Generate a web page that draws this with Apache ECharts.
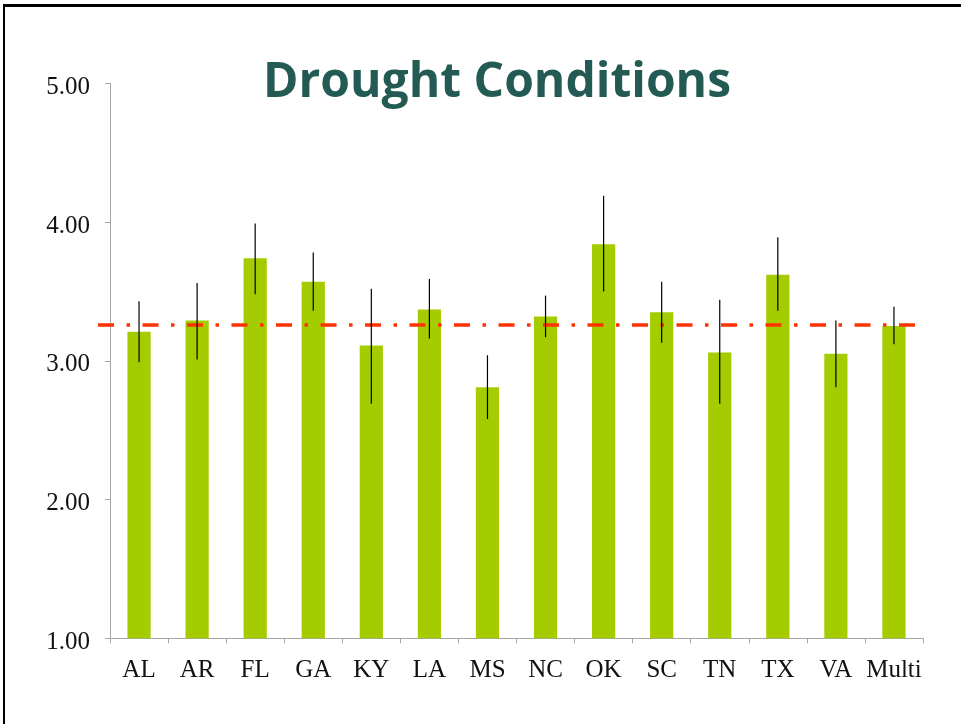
<!DOCTYPE html>
<html>
<head>
<meta charset="utf-8">
<script src="https://cdn.jsdelivr.net/npm/echarts@6/dist/echarts.min.js"></script>
<style>
  html, body { margin: 0; padding: 0; background: #fff; }
  #frame {
    position: absolute; left: 3px; top: 4px; width: 980px; height: 718px;
    border-left: 2px solid #000; border-top: 3px solid #000; border-bottom: 1px solid #aaa;
  }
  #main { position: absolute; left: 0; top: 0; width: 961px; height: 724px; }
</style>
</head>
<body>
<div id="frame"></div>
<div id="main"></div>
<script>
// states along the x axis
var states = ['AL', 'AR', 'FL', 'GA', 'KY', 'LA', 'MS', 'NC', 'OK', 'SC', 'TN', 'TX', 'VA', 'Multi'];
// mean scores (bar heights)
var means = [3.21, 3.29, 3.74, 3.57, 3.11, 3.37, 2.81, 3.32, 3.84, 3.35, 3.06, 3.62, 3.05, 3.25];
// error bar ends
var errLow = [2.99, 3.01, 3.48, 3.36, 2.69, 3.16, 2.58, 3.17, 3.50, 3.13, 2.69, 3.36, 2.81, 3.12];
var errHigh = [3.43, 3.56, 3.99, 3.78, 3.52, 3.59, 3.04, 3.47, 4.19, 3.57, 3.44, 3.89, 3.29, 3.39];
// overall average (dash-dot line)
var overall = 3.26;
var yTicks = [1, 2, 3, 4, 5];

var errData = states.map(function (s, i) { return [i, errLow[i], errHigh[i]]; });

var myChart = echarts.init(document.getElementById('main'));
myChart.setOption({
    backgroundColor: 'transparent',
    animation: false,
    title: {
        text: 'Drought Conditions',
        left: 492,
        top: 54,
        textAlign: 'center',
        textStyle: {
            fontFamily: 'Open Sans',
            fontWeight: 'bold',
            fontSize: 48,
            color: '#235B54'
        }
    },
    grid: { left: 110, right: 38, top: 83.3, bottom: 85.7, containLabel: false },
    xAxis: {
        type: 'category',
        data: states,
        axisLine: { lineStyle: { color: '#a6a6a6', width: 1 } },
        axisTick: { show: true, length: 5, alignWithLabel: false, lineStyle: { color: '#a6a6a6' } },
        axisLabel: {
            interval: 0,
            margin: 20,
            fontFamily: 'Liberation Serif',
            fontSize: 25,
            color: '#111'
        }
    },
    yAxis: {
        type: 'value',
        min: yTicks[0],
        max: yTicks[yTicks.length - 1],
        interval: 1,
        axisLine: { show: true, lineStyle: { color: '#a6a6a6', width: 1 } },
        axisTick: { show: true, length: 5, lineStyle: { color: '#a6a6a6' } },
        splitLine: { show: false },
        axisLabel: {
            margin: 20,
            verticalAlign: 'top',
            lineHeight: 8,
            fontFamily: 'Liberation Serif',
            fontSize: 25,
            color: '#111',
            formatter: function (v) { return v.toFixed(2); }
        }
    },
    series: [{
        type: 'bar',
        data: means,
        barWidth: '40%',
        itemStyle: { color: '#A5CC00' },
        markLine: {
            symbol: 'none',
            silent: true,
            label: { show: false },
            lineStyle: {
                color: '#FF3300',
                width: 3.6,
                type: [16, 12.5, 3.5, 12.5]
            },
            data: [[{ x: 98, yAxis: overall }, { x: 922, yAxis: overall }]]
        }
    }, {
        // 误差线
        type: 'custom',
        data: errData,
        z: 5,
        renderItem: function (params, api) {
            var lo = api.coord([api.value(0), api.value(1)]);
            var hi = api.coord([api.value(0), api.value(2)]);
            return {
                type: 'line',
                shape: { x1: lo[0], y1: lo[1], x2: hi[0], y2: hi[1] },
                style: { stroke: '#000', lineWidth: 1.2 }
            };
        }
    }]
});
</script>
</body>
</html>
